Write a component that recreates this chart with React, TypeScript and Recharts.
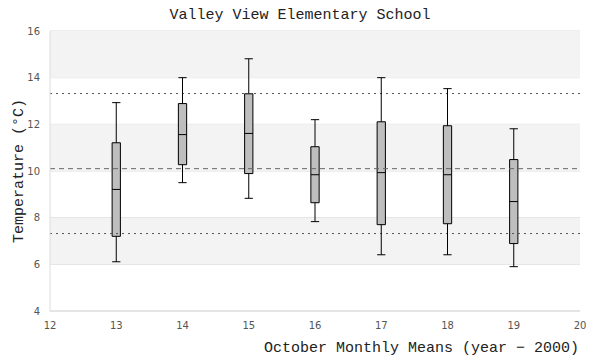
import {
  CartesianGrid,
  ComposedChart,
  ReferenceArea,
  ReferenceLine,
  Scatter,
  XAxis,
  YAxis,
} from "recharts";

// October monthly mean temperatures, box summary per year (year - 2000)
const years = [13, 14, 15, 16, 17, 18, 19];
const lowWhisker = [6.11, 9.5, 8.83, 7.83, 6.41, 6.41, 5.9];
const lowerQuartile = [7.2, 10.27, 9.89, 8.64, 7.7, 7.74, 6.89];
const medians = [9.21, 11.56, 11.61, 9.84, 9.93, 9.84, 8.69];
const upperQuartile = [11.21, 12.89, 13.31, 11.04, 12.11, 11.94, 10.49];
const highWhisker = [12.93, 14.0, 14.81, 12.2, 14.0, 13.53, 11.81];

const meanLine = 10.1;
const upperLine = 13.32;
const lowerLine = 7.32;

const xTicks = [12, 13, 14, 15, 16, 17, 18, 19, 20];
const yTicks = [4, 6, 8, 10, 12, 14, 16];
const shadedBands = [
  [6, 8],
  [10, 12],
  [14, 16],
];

const rows = years.map((year, i) => ({
  year,
  low: lowWhisker[i],
  q1: lowerQuartile[i],
  median: medians[i],
  q3: upperQuartile[i],
  high: highWhisker[i],
}));

const HALF = 0.0625; // half box width, x units
const MONO = '"Liberation Mono", "DejaVu Sans Mono", monospace';
const TICK = { fontFamily: '"DejaVu Sans", sans-serif', fontSize: 10, fill: "#555" };

const MedianMark = (props: any) => {
  const { cx, cy } = props;
  return <line x1={cx - 4.15} x2={cx + 4.15} y1={cy} y2={cy} stroke="#000" strokeWidth={1} />;
};

export default function App() {
  return (
    <div style={{ position: "absolute", left: 0, top: 0, width: 600, height: 360, background: "#fff" }}>
      <ComposedChart
        width={600}
        height={360}
        data={rows}
        margin={{ top: 31, right: 20, bottom: 0, left: 0 }}
      >
        {shadedBands.map(([a, b]) => (
          <ReferenceArea key={a} y1={a} y2={b} fill="#f3f3f3" fillOpacity={1} stroke="none" />
        ))}
        <CartesianGrid vertical={false} stroke="#dcdcdc" />
        <ReferenceArea fill="none" stroke="#dcdcdc" strokeWidth={1} />
        <XAxis
          type="number"
          dataKey="year"
          domain={[12, 20]}
          ticks={xTicks}
          height={49}
          tickLine={false}
          tickMargin={5}
          axisLine={{ stroke: "#dcdcdc" }}
          tick={TICK}
          label={{
            content: ({ viewBox }: any) => (
              <text
                x={viewBox.x + viewBox.width - 1}
                y={viewBox.y + viewBox.height - 8.5}
                textAnchor="end"
                fontFamily={MONO}
                fontSize={15}
                fill="#222"
              >
                October Monthly Means (year − 2000)
              </text>
            ),
          }}
        />
        <YAxis
          type="number"
          dataKey="median"
          domain={[4, 16]}
          ticks={yTicks}
          width={50}
          tickLine={false}
          tickMargin={4}
          axisLine={{ stroke: "#dcdcdc" }}
          tick={TICK}
          label={{
            content: ({ viewBox }: any) => {
              const cx = 23;
              const cy = viewBox.y + viewBox.height / 2;
              return (
                <text
                  x={cx}
                  y={cy}
                  textAnchor="middle"
                  transform={`rotate(-90, ${cx}, ${cy})`}
                  fontFamily={MONO}
                  fontSize={15}
                  fill="#222"
                >
                  Temperature (°C)
                </text>
              );
            },
          }}
        />
        <ReferenceLine y={upperLine} stroke="#555" strokeDasharray="2 4" />
        <ReferenceLine y={meanLine} stroke="#666" strokeDasharray="5 4" />
        <ReferenceLine y={lowerLine} stroke="#555" strokeDasharray="2 4" />
        {rows.map((r) => (
          <ReferenceLine
            key={`wl${r.year}`}
            segment={[
              { x: r.year, y: r.low },
              { x: r.year, y: r.q1 },
            ]}
            stroke="#000"
          />
        ))}
        {rows.map((r) => (
          <ReferenceLine
            key={`wh${r.year}`}
            segment={[
              { x: r.year, y: r.q3 },
              { x: r.year, y: r.high },
            ]}
            stroke="#000"
          />
        ))}
        {rows.map((r) => (
          <ReferenceLine
            key={`cl${r.year}`}
            segment={[
              { x: r.year - HALF, y: r.low },
              { x: r.year + HALF, y: r.low },
            ]}
            stroke="#000"
          />
        ))}
        {rows.map((r) => (
          <ReferenceLine
            key={`ch${r.year}`}
            segment={[
              { x: r.year - HALF, y: r.high },
              { x: r.year + HALF, y: r.high },
            ]}
            stroke="#000"
          />
        ))}
        {rows.map((r) => (
          <ReferenceArea
            key={`b${r.year}`}
            x1={r.year - HALF}
            x2={r.year + HALF}
            y1={r.q1}
            y2={r.q3}
            fill="#bebebe"
            fillOpacity={1}
            stroke="#000"
            strokeWidth={1}
          />
        ))}
        <Scatter dataKey="median" shape={MedianMark} isAnimationActive={false} />
        <text x={300} y={18.5} textAnchor="middle" fontFamily={MONO} fontSize={15} fill="#222">
          Valley View Elementary School
        </text>
      </ComposedChart>
    </div>
  );
}
